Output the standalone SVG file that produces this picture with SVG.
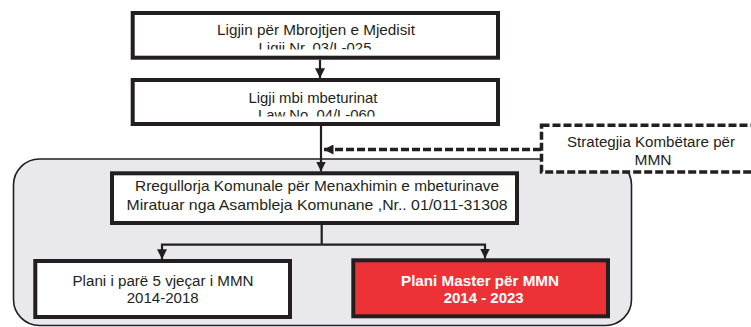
<svg xmlns="http://www.w3.org/2000/svg" width="751" height="327" viewBox="0 0 751 327">
<style>
.box{fill:#fff;stroke:#231f20;stroke-width:4}
.t{font-family:"Liberation Sans",Arial,sans-serif;fill:#231f20;text-anchor:middle;font-size:14.5px}
.l{font-size:15.5px}
.w{fill:#fff;font-weight:bold}
.con{fill:none;stroke:#231f20;stroke-width:2.2}
.dash{fill:none;stroke:#231f20;stroke-width:3.5;stroke-dasharray:8 3}
</style>
<defs>
<marker id="ah" viewBox="0 0 10 10" refX="10" refY="5" markerWidth="10" markerHeight="10" markerUnits="userSpaceOnUse" orient="auto">
<path d="M0,0 L10,5 L0,10 z" fill="#231f20"/>
</marker>
<clipPath id="c1"><rect x="130" y="14" width="370" height="35.5"/></clipPath>
<clipPath id="c2"><rect x="130" y="81" width="370" height="35.5"/></clipPath>
</defs>
<g id="group-area">
<rect x="13.5" y="159" width="618" height="166.5" rx="26" ry="26" fill="#e9e9eb" stroke="#231f20" stroke-width="1.6"/>
</g>
<g id="strategy">
<rect x="541.5" y="125.3" width="230" height="46.7" fill="#fff" class="dash" style="fill:#fff"/>
<text class="t l" x="651" y="146.7" textLength="168" lengthAdjust="spacingAndGlyphs">Strategjia Kombëtare për</text>
<text class="t l" x="653" y="165">MMN</text>
</g>
<g id="law1">
<rect class="box" x="132.7" y="13" width="365.3" height="44.7"/>
<text class="t" x="316" y="35" textLength="198" lengthAdjust="spacingAndGlyphs">Ligjin për Mbrojtjen e Mjedisit</text>
<text class="t" x="315" y="52.5" clip-path="url(#c1)" textLength="113" lengthAdjust="spacingAndGlyphs">Ligji Nr. 03/L-025</text>
</g>
<g id="law2">
<rect class="box" x="132.7" y="80" width="365.3" height="44"/>
<text class="t" x="313" y="103" textLength="129" lengthAdjust="spacingAndGlyphs">Ligji mbi mbeturinat</text>
<text class="t" x="316.5" y="120.3" clip-path="url(#c2)" textLength="117" lengthAdjust="spacingAndGlyphs">Law No. 04/L-060</text>
</g>
<g id="regulation">
<rect class="box" x="112" y="173.3" width="405" height="49.7" stroke-width="3.6"/>
<text class="t" x="317" y="191" textLength="364" lengthAdjust="spacingAndGlyphs">Rregullorja Komunale për Menaxhimin e mbeturinave</text>
<text class="t" x="317" y="210" textLength="381" lengthAdjust="spacingAndGlyphs">Miratuar nga Asambleja Komunane ,Nr.. 01/011-31308</text>
</g>
<g id="plan5">
<rect class="box" x="35.3" y="261" width="254.7" height="56" stroke-width="3.6"/>
<text class="t l" x="163" y="286" textLength="181" lengthAdjust="spacingAndGlyphs">Plani i parë 5 vjeçar i MMN</text>
<text class="t l" x="162.7" y="303.3" textLength="72" lengthAdjust="spacingAndGlyphs">2014-2018</text>
</g>
<g id="masterplan">
<rect class="box" x="353.3" y="260.3" width="254.7" height="56" style="fill:#ed3237" stroke-width="3.6"/>
<text class="t l w" x="480" y="286" textLength="158" lengthAdjust="spacingAndGlyphs">Plani Master për MMN</text>
<text class="t l w" x="483.7" y="303.3" textLength="80" lengthAdjust="spacingAndGlyphs">2014 - 2023</text>
</g>
<g id="connectors">
<line class="con" x1="320" y1="59.7" x2="320" y2="78.3" marker-end="url(#ah)"/>
<line class="con" x1="321" y1="126" x2="321" y2="171.5" marker-end="url(#ah)"/>
<line class="dash" x1="541" y1="149.5" x2="323.5" y2="149.5" marker-end="url(#ah)"/>
<polyline class="con" points="321.7,224.8 321.7,244.7"/>
<polyline class="con" points="321.7,244.7 162,244.7 162,259.2" marker-end="url(#ah)"/>
<polyline class="con" points="321.7,244.7 485,244.7 485,258.5" marker-end="url(#ah)"/>
</g>
</svg>
